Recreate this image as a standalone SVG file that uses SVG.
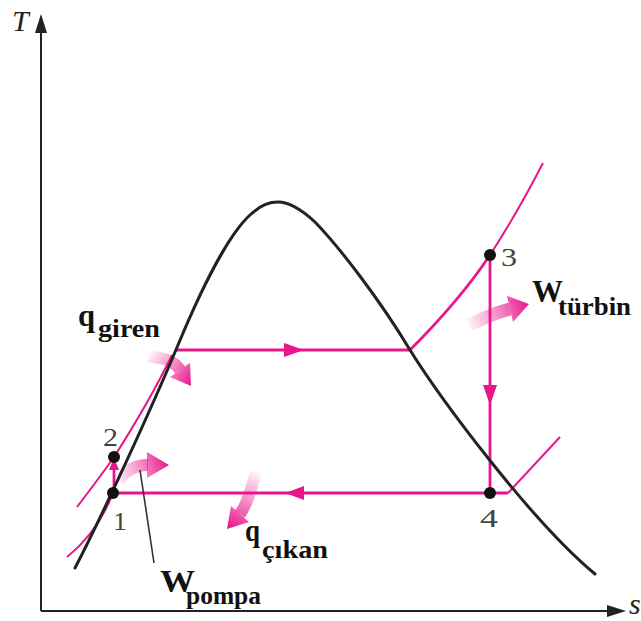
<svg xmlns="http://www.w3.org/2000/svg" width="641" height="621" viewBox="0 0 641 621">
<defs>
<style>
.ax{stroke:#222;stroke-width:2;fill:none}
.axh{fill:#222}
.dome{stroke:#222;stroke-width:3;fill:none;stroke-linecap:round}
.pk{stroke:#e8168a;stroke-width:2.8;fill:none}
.pkt{stroke:#e8168a;stroke-width:2;fill:none}
.ah{fill:#e8168a}
.dot{fill:#111}
.num{font-family:"Liberation Serif","Times New Roman",serif;font-size:26px;fill:#444}
.lbl{font-family:"Liberation Serif","Times New Roman",serif;font-weight:bold;fill:#111}
.big{font-size:32px}
.sub{font-size:26px}
.axl{font-family:"Liberation Serif","Times New Roman",serif;font-style:italic;font-size:30px;fill:#222}
.fat{fill:none;stroke-width:12}
</style>
<linearGradient id="g1" gradientUnits="userSpaceOnUse" x1="148" y1="357" x2="191" y2="386">
<stop offset="0" stop-color="#e8168a" stop-opacity="0.05"/><stop offset="0.5" stop-color="#e8168a" stop-opacity="0.5"/><stop offset="1" stop-color="#e8168a"/>
</linearGradient>
<linearGradient id="g2" gradientUnits="userSpaceOnUse" x1="118" y1="480" x2="169" y2="465">
<stop offset="0" stop-color="#e8168a" stop-opacity="0.05"/><stop offset="0.5" stop-color="#e8168a" stop-opacity="0.5"/><stop offset="1" stop-color="#e8168a"/>
</linearGradient>
<linearGradient id="g3" gradientUnits="userSpaceOnUse" x1="256" y1="472" x2="228" y2="528">
<stop offset="0" stop-color="#e8168a" stop-opacity="0.05"/><stop offset="0.5" stop-color="#e8168a" stop-opacity="0.5"/><stop offset="1" stop-color="#e8168a"/>
</linearGradient>
<linearGradient id="g4" gradientUnits="userSpaceOnUse" x1="469" y1="324" x2="529" y2="304">
<stop offset="0" stop-color="#e8168a" stop-opacity="0.05"/><stop offset="0.5" stop-color="#e8168a" stop-opacity="0.5"/><stop offset="1" stop-color="#e8168a"/>
</linearGradient>
</defs>

<g id="axes">
<line class="ax" x1="41" y1="611" x2="41" y2="30"/>
<polygon class="axh" points="41,14 35,33 47,33"/>
<line class="ax" x1="41" y1="611" x2="610" y2="611"/>
<polygon class="axh" points="626,611 607,605 607,617"/>
<text class="axl" x="12" y="31">T</text>
<text class="axl" x="629" y="614">s</text>
</g>

<g id="isobars">
<path class="pkt" d="M67,557 C82,545 100,527 113,493"/>
<path class="pkt" d="M77,507 C90,490 105,470 114,457 C130,432 155,390 172,355"/>
<path class="pk" d="M410,350 C440,320 470,285 490,255"/>
<path class="pkt" d="M490,255 C505,232 528,192 543,163"/>
<path class="pkt" d="M508,493 L560,437"/>
</g>

<g id="connectors">
<path class="pk" d="M175,350 L410,350"/>
<polygon class="ah" points="284,343 304,350 284,357"/>
<path class="pk" d="M490,255 L490,493"/>
<polygon class="ah" points="483,385 497,385 490,405"/>
<path class="pk" d="M508,493 L113,493"/>
<polygon class="ah" points="285,493 304,486 304,500"/>
<path class="pk" d="M114,493 L114,463"/>
<polygon class="ah" points="114,458 109,470 119,470"/>
</g>

<g id="arrows">
<g id="arrow-qgiren">
<path class="fat" stroke="url(#g1)" d="M148,357 Q172,357 180,370"/>
<polygon fill="url(#g1)" points="170,377 190,363 191,386"/>
</g>
<g id="arrow-wpompa">
<path class="fat" stroke="url(#g2)" d="M118,482 Q128,465 148,465"/>
<polygon fill="url(#g2)" points="147,452 147,478 169,465"/>
</g>
<g id="arrow-qcikan">
<path class="fat" stroke="url(#g3)" d="M256,472 Q248,503 240,514"/>
<polygon fill="url(#g3)" points="249,522 231,506 227,529"/>
</g>
<g id="arrow-wturbin">
<path class="fat" stroke="url(#g4)" style="stroke-width:13" d="M469,325 Q496,312 510,309"/>
<polygon fill="url(#g4)" points="513,322 507,296 529,304"/>
</g>
</g>

<g id="dome">
<path class="dome" d="M75,568 C100,520 150,412 178,345 C200,292 228,235 250,215 C262,204 270,202 278,202 C290,202 302,210 315,222 C340,248 380,300 410,350 C440,398 530,520 595,574"/>
</g>

<g id="leader">
<line x1="140" y1="470" x2="154" y2="563" stroke="#333" stroke-width="1.6"/>
</g>

<g id="state-1">
<circle class="dot" cx="113" cy="493" r="6"/>
<text class="num" x="113" y="530" textLength="14" lengthAdjust="spacingAndGlyphs">1</text>
</g>
<g id="state-2">
<circle class="dot" cx="114" cy="457" r="6"/>
<text class="num" x="103" y="446" textLength="15" lengthAdjust="spacingAndGlyphs">2</text>
</g>
<g id="state-3">
<circle class="dot" cx="490" cy="255" r="6"/>
<text class="num" x="501" y="266" textLength="16" lengthAdjust="spacingAndGlyphs">3</text>
</g>
<g id="state-4">
<circle class="dot" cx="490" cy="493" r="6"/>
<text class="num" x="480" y="527" textLength="18" lengthAdjust="spacingAndGlyphs">4</text>
</g>

<g id="label-qgiren">
<text class="lbl big" x="78" y="326" textLength="17" lengthAdjust="spacingAndGlyphs">q</text>
<text class="lbl sub" x="98" y="337" textLength="62" lengthAdjust="spacingAndGlyphs">giren</text>
</g>
<g id="label-qcikan">
<text class="lbl big" x="245" y="541" textLength="15" lengthAdjust="spacingAndGlyphs">q</text>
<text class="lbl sub" x="262" y="558" textLength="66" lengthAdjust="spacingAndGlyphs">çıkan</text>
</g>
<g id="label-wpompa">
<text class="lbl big" x="160" y="592" textLength="35" lengthAdjust="spacingAndGlyphs">W</text>
<text class="lbl sub" x="186" y="604" textLength="75" lengthAdjust="spacingAndGlyphs">pompa</text>
</g>
<g id="label-wturbin">
<text class="lbl big" x="532" y="302" textLength="31" lengthAdjust="spacingAndGlyphs">W</text>
<text class="lbl sub" x="558" y="315" textLength="73" lengthAdjust="spacingAndGlyphs">türbin</text>
</g>
</svg>
